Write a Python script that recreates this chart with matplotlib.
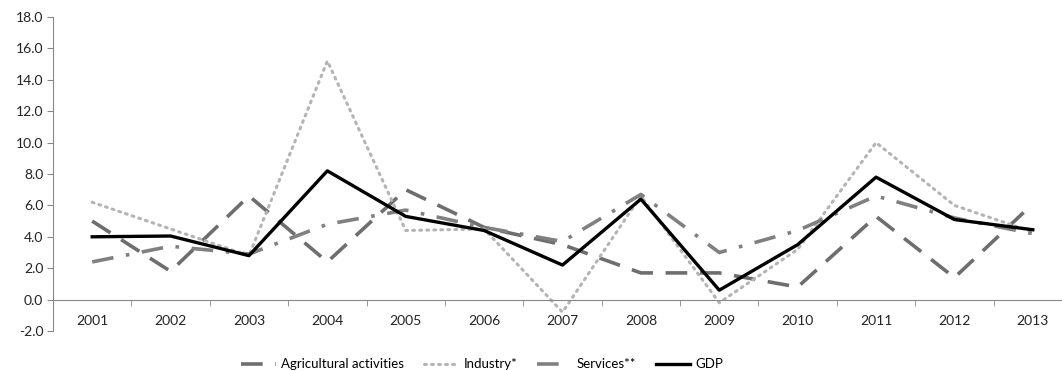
import matplotlib
matplotlib.use("Agg")
import matplotlib.pyplot as plt
import numpy as np

plt.rcParams['font.family'] = ['Lato', 'DejaVu Sans']

YEARS = ['2001', '2002', '2003', '2004', '2005', '2006', '2007',
         '2008', '2009', '2010', '2011', '2012', '2013']
AGRICULTURE = [5.0, 1.8, 6.6, 2.4, 7.0, 4.6, 3.5, 1.7, 1.7, 0.8, 5.3, 1.4, 6.1]
INDUSTRY = [6.2, 4.5, 2.8, 15.2, 4.4, 4.5, -0.8, 6.6, -0.2, 3.2, 10.0, 6.0, 4.3]
SERVICES = [2.4, 3.4, 2.9, 4.8, 5.7, 4.6, 3.7, 6.7, 3.0, 4.4, 6.6, 5.2, 4.2]
GDP = [4.0, 4.05, 2.8, 8.2, 5.3, 4.4, 2.2, 6.4, 0.6, 3.5, 7.8, 5.1, 4.45]

W, H = 1062, 371


def main():
    fig = plt.figure(figsize=(W / 100, H / 100), dpi=100)
    ax = fig.add_axes([53 / W, 40 / H, (1072 - 53) / W, (331 - 17) / H])
    x = np.arange(len(YEARS))

    ax.plot(x, AGRICULTURE, color='#6e6e6e', lw=2.6, dashes=(6, 3.5),
            label='Agricultural activities')
    ax.plot(x, INDUSTRY, color='#b4b4b4', lw=2.2, dashes=(0.6, 1.7),
            dash_capstyle='round', label='Industry*')
    ax.plot(x, SERVICES, color='#808080', lw=2.6, dashes=(6, 3.5, 1, 3.5),
            label='Services**')
    ax.plot(x, GDP, color='black', lw=2.4, label='GDP')

    ax.set_xlim(-0.5, len(YEARS) - 0.5)
    ax.set_ylim(-2, 18)
    ax.set_yticks(np.arange(-2, 19, 2))
    ax.set_yticklabels([f'{v:.1f}' for v in np.arange(-2, 19, 2)])

    ax.set_xticks(x)
    ax.set_xticklabels(YEARS)
    ax.set_xticks(x[:-1] + 0.5, minor=True)
    ax.tick_params(axis='x', which='major', length=0, pad=11,
                   labelsize=10, labelcolor='#222222')
    ax.tick_params(axis='x', which='minor', length=4, color='#888888',
                   direction='out')
    ax.tick_params(axis='y', length=4, color='#888888', labelsize=10,
                   labelcolor='#222222', pad=3)

    for side in ('top', 'right'):
        ax.spines[side].set_visible(False)
    ax.spines['bottom'].set_position(('data', 0))
    ax.spines['bottom'].set_color('#888888')
    ax.spines['left'].set_color('#888888')

    fig.legend(loc='lower center', bbox_to_anchor=(0.454, -0.03), ncol=4,
               frameon=False, fontsize=9.5, handlelength=2.6,
               columnspacing=1.5, handletextpad=0.4)

    fig.savefig('out.png', dpi=100)


if __name__ == "__main__":
    main()
